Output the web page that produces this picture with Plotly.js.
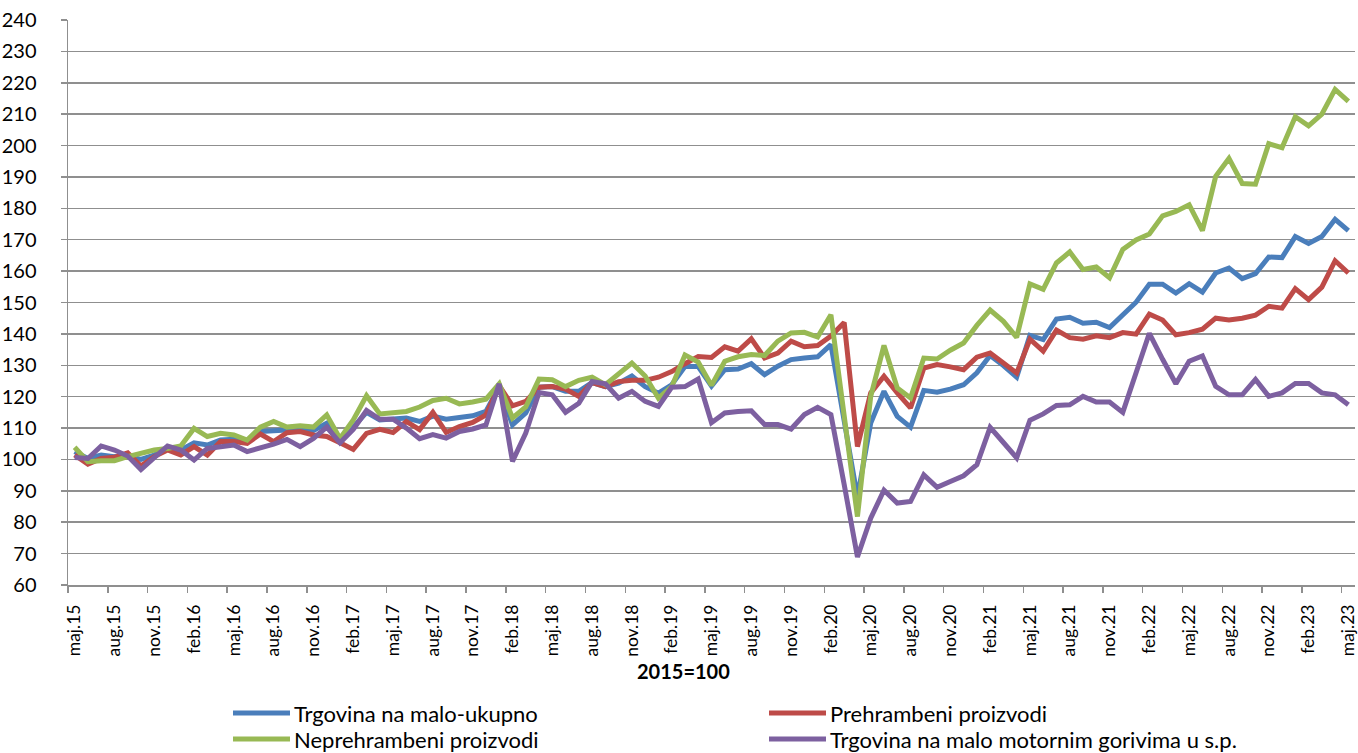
<!DOCTYPE html>
<html>
<head>
<meta charset="utf-8">
<script src="https://cdn.plot.ly/plotly-3.0.1.min.js"></script>
<style>html,body{margin:0;padding:0;background:#fff;}#chart{width:1358px;height:753px;}</style>
</head>
<body>
<div id="chart"></div>
<script>
const categories = [
"maj.15","jun.15","jul.15","aug.15","sep.15","okt.15","nov.15","dec.15","jan.16","feb.16","mar.16","apr.16",
"maj.16","jun.16","jul.16","aug.16","sep.16","okt.16","nov.16","dec.16","jan.17","feb.17","mar.17","apr.17",
"maj.17","jun.17","jul.17","aug.17","sep.17","okt.17","nov.17","dec.17","jan.18","feb.18","mar.18","apr.18",
"maj.18","jun.18","jul.18","aug.18","sep.18","okt.18","nov.18","dec.18","jan.19","feb.19","mar.19","apr.19",
"maj.19","jun.19","jul.19","aug.19","sep.19","okt.19","nov.19","dec.19","jan.20","feb.20","mar.20","apr.20",
"maj.20","jun.20","jul.20","aug.20","sep.20","okt.20","nov.20","dec.20","jan.21","feb.21","mar.21","apr.21",
"maj.21","jun.21","jul.21","aug.21","sep.21","okt.21","nov.21","dec.21","jan.22","feb.22","mar.22","apr.22",
"maj.22","jun.22","jul.22","aug.22","sep.22","okt.22","nov.22","dec.22","jan.23","feb.23","mar.23","apr.23",
"maj.23"];

const tickLabels = ["maj.15","aug.15","nov.15","feb.16","maj.16","aug.16","nov.16","feb.17","maj.17","aug.17","nov.17",
"feb.18","maj.18","aug.18","nov.18","feb.19","maj.19","aug.19","nov.19","feb.20","maj.20","aug.20","nov.20",
"feb.21","maj.21","aug.21","nov.21","feb.22","maj.22","aug.22","nov.22","feb.23","maj.23"];

const seriesNames = ["Trgovina na malo-ukupno","Prehrambeni proizvodi","Neprehrambeni proizvodi","Trgovina na malo motornim gorivima u s.p."];

const ukupno = [102.5,100.3,101.4,100.9,101.1,100.0,101.4,103.5,103.0,105.3,104.6,106.2,
106.4,105.7,108.9,109.2,109.4,109.2,109.2,111.5,105.7,110.3,115.0,112.6,
113.0,113.2,112.1,113.8,112.8,113.2,113.9,115.3,123.2,111.0,114.8,123.0,
123.2,121.7,121.7,124.5,123.2,124.3,126.6,123.2,121.1,123.8,129.6,129.6,
123.4,128.6,128.8,130.5,127.0,129.7,131.8,132.3,132.7,136.6,113.0,88.0,
111.6,121.7,113.7,110.3,122.0,121.4,122.4,123.8,127.6,133.1,129.9,126.2,
139.5,138.2,144.7,145.3,143.4,143.7,142.0,145.8,150.1,155.8,155.8,153.0,
156.0,153.3,159.4,161.0,157.6,159.2,164.5,164.3,171.0,168.8,171.0,176.5,
172.9];

const prehrambeni = [101.4,98.5,100.3,100.7,102.1,97.9,100.9,103.0,101.4,104.1,101.4,105.7,
105.7,105.1,108.1,105.7,108.5,108.9,107.8,107.3,105.3,103.2,108.3,109.6,
108.6,112.1,109.5,115.0,108.6,110.5,111.8,114.2,123.5,117.1,118.5,123.0,
123.2,122.4,120.1,124.5,123.2,124.8,125.2,125.2,126.2,128.0,130.5,132.8,
132.5,135.9,134.5,138.4,132.3,133.9,137.7,135.9,136.3,139.3,143.6,104.1,
121.2,126.5,121.2,116.4,129.1,130.2,129.5,128.6,132.6,133.9,130.7,127.5,
138.3,134.5,141.2,138.8,138.3,139.4,138.8,140.4,139.9,146.3,144.4,139.7,
140.4,141.5,145.0,144.4,145.0,146.0,148.8,148.2,154.4,150.9,154.9,163.3,
159.4];

const neprehrambeni = [103.9,99.3,99.6,99.6,100.9,101.9,103.0,103.5,104.3,109.9,107.3,108.3,
107.8,106.2,110.3,112.1,110.3,110.7,110.3,114.2,106.7,112.6,120.3,114.5,
115.0,115.3,116.7,118.8,119.5,117.7,118.3,119.2,124.1,113.2,116.7,125.6,
125.4,123.2,125.2,126.2,123.8,127.0,130.7,126.6,119.5,123.2,133.3,131.0,
123.6,131.3,132.7,133.4,133.1,137.7,140.3,140.5,139.0,146.1,114.0,81.8,
120.1,136.3,122.8,119.6,132.3,132.0,134.8,137.1,142.7,147.6,144.0,138.9,
155.9,154.2,162.6,166.1,160.5,161.3,157.9,166.9,169.9,171.8,177.6,179.0,
181.1,172.9,190.2,195.9,187.9,187.7,200.6,199.3,209.2,206.3,210.0,217.9,
214.1];

const gorivo = [100.6,100.3,104.3,103.0,101.1,96.8,100.6,104.3,103.0,99.8,103.5,104.1,
104.6,102.5,103.5,104.9,106.4,104.1,106.7,110.3,105.3,109.6,115.6,112.8,
112.8,110.0,106.6,107.9,106.8,108.9,109.7,111.0,124.1,99.4,108.4,121.3,
120.6,115.0,117.9,124.8,124.1,119.5,121.7,118.5,116.9,123.0,123.2,125.6,
111.7,114.8,115.3,115.5,111.1,111.1,109.7,114.3,116.6,114.3,92.0,68.9,
81.3,90.2,86.1,86.6,95.1,91.1,93.0,94.8,98.3,110.2,105.4,100.5,
112.5,114.5,117.2,117.4,120.1,118.3,118.3,115.0,127.6,140.2,131.9,124.1,
131.3,133.0,123.3,120.6,120.6,125.5,120.1,121.2,124.2,124.2,121.2,120.6,
117.4];

const yTicks = [60,70,80,90,100,110,120,130,140,150,160,170,180,190,200,210,220,230,240];
const xTitle = "2015=100";

const colors = ["#4A7EBB","#BE4B48","#98B954","#7D60A0"];
const allSeries = [ukupno, prehrambeni, neprehrambeni, gorivo];
const xIdx = categories.map((c, i) => i);

const traces = allSeries.map((s, k) => ({
  x: xIdx,
  y: s,
  type: "scatter",
  mode: "lines",
  name: seriesNames[k],
  line: {color: colors[k], width: 5},
  hoverinfo: "skip",
  showlegend: false
}));

const font = "Lato, 'Open Sans', sans-serif";
const grid = "#8f8f8f";

// plot area geometry in pixels (for converting legend placement to paper coords)
const M = {l: 68, r: 3, t: 20, b: 168};
const W = 1358, H = 753;
const pw = W - M.l - M.r, ph = H - M.t - M.b;
const px = x => (x - M.l) / pw;
const py = y => (H - M.b - y) / ph;

// manual two-column legend
const legendPos = [[233, 713], [769, 713], [233, 739], [769, 739]];
const shapes = [];
const annotations = [];
seriesNames.forEach((name, k) => {
  const [lx, ly] = legendPos[k];
  shapes.push({type: "line", xref: "paper", yref: "paper",
    x0: px(lx), x1: px(lx + 57), y0: py(ly), y1: py(ly),
    line: {color: colors[k], width: 5}});
  annotations.push({text: name, xref: "paper", yref: "paper",
    x: px(lx + 60), y: py(ly), xanchor: "left", yanchor: "middle",
    showarrow: false, borderpad: 0, font: {family: font, size: 22, color: "#000"}});
});
annotations.push({
  text: "<b>" + xTitle + "</b>",
  xref: "paper", yref: "paper",
  x: px(683), y: py(671),
  xanchor: "center", yanchor: "middle",
  showarrow: false,
  font: {family: font, size: 20, color: "#000"}
});

const layout = {
  width: W, height: H,
  margin: M,
  paper_bgcolor: "#ffffff",
  plot_bgcolor: "#ffffff",
  font: {family: font, color: "#000000", size: 18},
  showlegend: false,
  xaxis: {
    type: "linear",
    range: [-0.5, categories.length - 0.5],
    tickmode: "array",
    tickvals: tickLabels.map(t => categories.indexOf(t)),
    ticktext: tickLabels,
    tickangle: -90,
    ticks: "",
    ticklabelstandoff: 11,
    ticklabeloverflow: "allow",
    showgrid: false,
    zeroline: false,
    showline: true,
    linecolor: grid,
    linewidth: 1.5,
    tickfont: {family: font, size: 17.5, color: "#000"},
    minor: {tickmode: "linear", tick0: -0.5, dtick: 3, ticks: "outside", ticklen: 6, tickwidth: 1.5, tickcolor: grid, showgrid: false}
  },
  yaxis: {
    range: [60, 240],
    tickmode: "array",
    tickvals: yTicks,
    ticktext: yTicks.map(String),
    ticks: "outside",
    ticklen: 6,
    tickwidth: 1.5,
    tickcolor: grid,
    ticklabelstandoff: 20,
    showgrid: true,
    gridcolor: grid,
    gridwidth: 1.5,
    zeroline: false,
    showline: true,
    linecolor: grid,
    linewidth: 1.5,
    tickfont: {family: font, size: 20, color: "#000"}
  },
  shapes: shapes,
  annotations: annotations
};

Plotly.newPlot("chart", traces, layout, {displayModeBar: false, staticPlot: true});
</script>
</body>
</html>
